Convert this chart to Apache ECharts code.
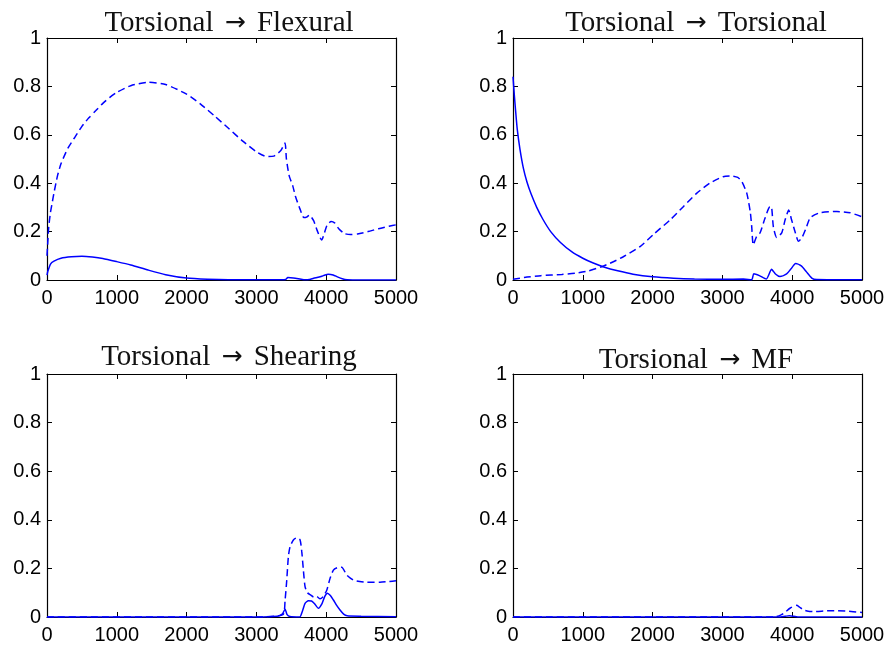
<!DOCTYPE html>
<html>
<head>
<meta charset="utf-8">
<script src="https://cdn.jsdelivr.net/npm/echarts@6/dist/echarts.min.js"></script>
<style>
  html, body { margin: 0; padding: 0; background: #fff; }
  #chart { width: 893px; height: 650px; }
</style>
</head>
<body>
<div id="chart"></div>
<script>
// Panel titles: source mode, arrow, target mode
const titleFrom = ['Torsional', 'Torsional', 'Torsional', 'Torsional'];
const titleTo = ['Flexural', 'Torsional', 'Shearing', 'MF'];

// Axis ticks
const xTicks = [0, 1000, 2000, 3000, 4000, 5000];
const yTicks = [0, 0.2, 0.4, 0.6, 0.8, 1];

// Torsional -> Flexural
const flexSolidX = [0, 10, 50, 100, 200, 350, 500, 650, 800, 1000, 1200, 1450, 1700, 2000, 2300, 2600, 3000, 3350, 3420, 3450, 3530, 3600, 3680, 3760, 3820, 3900, 3960, 4030, 4100, 4160, 4230, 4300, 4500, 5000];
const flexSolidY = [0.02, 0.034, 0.066, 0.078, 0.09, 0.096, 0.098, 0.095, 0.089, 0.076, 0.062, 0.041, 0.022, 0.008, 0.003, 0.001, 0.001, 0.001, 0.002, 0.01, 0.008, 0.005, 0.001, 0.002, 0.007, 0.012, 0.018, 0.024, 0.021, 0.013, 0.005, 0.001, 0, 0];
const flexDashX = [0, 10, 25, 50, 75, 100, 150, 200, 300, 400, 500, 600, 700, 800, 900, 1000, 1200, 1450, 1700, 2000, 2200, 2400, 2600, 2800, 3000, 3150, 3250, 3350, 3410, 3430, 3470, 3520, 3560, 3620, 3680, 3720, 3760, 3820, 3870, 3935, 3970, 4010, 4070, 4120, 4180, 4260, 4350, 4450, 4600, 4750, 4900, 5000];
const flexDashY = [0.10, 0.15, 0.22, 0.28, 0.32, 0.36, 0.43, 0.48, 0.545, 0.59, 0.635, 0.67, 0.70, 0.73, 0.755, 0.775, 0.803, 0.817, 0.808, 0.768, 0.727, 0.678, 0.627, 0.575, 0.53, 0.51, 0.512, 0.535, 0.566, 0.50, 0.43, 0.39, 0.345, 0.297, 0.258, 0.26, 0.268, 0.245, 0.205, 0.165, 0.19, 0.225, 0.242, 0.236, 0.212, 0.192, 0.188, 0.19, 0.2, 0.212, 0.222, 0.228];

// Torsional -> Torsional
const torsSolidX = [0, 20, 40, 62, 100, 150, 200, 260, 340, 430, 540, 680, 840, 1000, 1150, 1300, 1500, 1720, 2000, 2300, 2600, 3000, 3300, 3420, 3450, 3530, 3630, 3705, 3760, 3824, 3920, 3980, 4050, 4130, 4200, 4280, 4350, 5000];
const torsSolidY = [0.84, 0.76, 0.69, 0.62, 0.54, 0.46, 0.405, 0.355, 0.30, 0.25, 0.20, 0.155, 0.117, 0.09, 0.07, 0.054, 0.038, 0.024, 0.013, 0.007, 0.004, 0.003, 0.004, 0.001, 0.026, 0.018, 0.004, 0.044, 0.025, 0.014, 0.025, 0.045, 0.068, 0.058, 0.035, 0.008, 0.002, 0.001];
const torsDashX = [0, 200, 400, 700, 900, 1075, 1270, 1390, 1580, 1820, 2030, 2250, 2440, 2630, 2820, 3010, 3130, 3220, 3280, 3350, 3400, 3420, 3442, 3490, 3540, 3610, 3680, 3705, 3730, 3777, 3850, 3900, 3950, 3990, 4040, 4090, 4140, 4200, 4260, 4400, 4640, 4830, 5000];
const torsDashY = [0.003, 0.012, 0.018, 0.023, 0.028, 0.037, 0.055, 0.069, 0.096, 0.138, 0.193, 0.248, 0.303, 0.358, 0.400, 0.427, 0.430, 0.424, 0.406, 0.358, 0.28, 0.22, 0.145, 0.18, 0.195, 0.255, 0.303, 0.30, 0.22, 0.176, 0.195, 0.25, 0.289, 0.25, 0.20, 0.16, 0.175, 0.215, 0.258, 0.278, 0.283, 0.278, 0.261];

// Torsional -> Shearing
const shearSolidX = [0, 3000, 3300, 3370, 3411, 3440, 3480, 3620, 3660, 3697, 3745, 3790, 3830, 3888, 3940, 3980, 4017, 4060, 4103, 4150, 4198, 4250, 4300, 4500, 5000];
const shearSolidY = [0, 0, 0.003, 0.012, 0.032, 0.01, 0.002, 0, 0.025, 0.056, 0.067, 0.066, 0.056, 0.036, 0.055, 0.085, 0.098, 0.088, 0.07, 0.048, 0.029, 0.012, 0.005, 0.003, 0.001];
const shearDashX = [0, 3000, 3380, 3411, 3435, 3458, 3482, 3530, 3578, 3626, 3650, 3673, 3697, 3730, 3780, 3820, 3864, 3912, 3960, 4008, 4055, 4103, 4160, 4222, 4294, 4389, 4480, 4580, 4771, 4900, 5000];
const shearDashY = [0, 0, 0.01, 0.07, 0.152, 0.248, 0.289, 0.317, 0.326, 0.317, 0.269, 0.193, 0.125, 0.10, 0.09, 0.082, 0.084, 0.075, 0.085, 0.11, 0.159, 0.193, 0.203, 0.205, 0.173, 0.152, 0.146, 0.143, 0.143, 0.146, 0.149];

// Torsional -> MF
const mfSolidX = [0, 3800, 3900, 3960, 4020, 4100, 5000];
const mfSolidY = [0, 0, 0.003, 0.005, 0.003, 0, 0];
const mfDashX = [0, 3750, 3848, 3900, 3968, 4063, 4100, 4159, 4230, 4326, 4480, 4637, 4800, 4947, 5000];
const mfDashY = [0, 0, 0.01, 0.02, 0.036, 0.048, 0.042, 0.03, 0.024, 0.022, 0.025, 0.026, 0.024, 0.02, 0.019];

const panelSolid = [[flexSolidX, flexSolidY], [torsSolidX, torsSolidY], [shearSolidX, shearSolidY], [mfSolidX, mfSolidY]];
const panelDash = [[flexDashX, flexDashY], [torsDashX, torsDashY], [shearDashX, shearDashY], [mfDashX, mfDashY]];

const zip = (xs, ys) => xs.map((x, i) => [x, ys[i]]);

// Panel boxes (left, top, width, height)
const boxes = [
  { left: 47, top: 38, width: 349, height: 242 },
  { left: 513, top: 38, width: 349, height: 242 },
  { left: 47, top: 374, width: 349, height: 243 },
  { left: 513, top: 374, width: 349, height: 243 }
];
const titlePos = [
  { x: 229, top: 8 },
  { x: 696, top: 8 },
  { x: 229, top: 342 },
  { x: 696, top: 345 }
];

const labelFont = { fontFamily: 'Liberation Sans', fontSize: 20, color: '#000' };
const lineCol = '#000';

const grid = [], xAxis = [], yAxis = [], series = [], title = [];

boxes.forEach((b, i) => {
  grid.push(Object.assign({ containLabel: false }, b));
  // bottom and left axes carry labels; top and right axes close the box
  xAxis.push({
    type: 'value', gridIndex: i, min: 0, max: 5000, interval: 1000, position: 'bottom',
    axisLine: { lineStyle: { color: lineCol, width: 1.2 } },
    axisTick: { inside: true, length: 5, lineStyle: { color: lineCol } },
    axisLabel: Object.assign({ margin: 8, formatter: v => xTicks.includes(v) ? String(v) : '' }, labelFont),
    splitLine: { show: false }
  });
  xAxis.push({
    type: 'value', gridIndex: i, min: 0, max: 5000, interval: 1000, position: 'top',
    axisLine: { onZero: false, lineStyle: { color: lineCol, width: 1.2 } },
    axisTick: { inside: true, length: 5, lineStyle: { color: lineCol } },
    axisLabel: { show: false },
    splitLine: { show: false }
  });
  yAxis.push({
    type: 'value', gridIndex: i, min: 0, max: 1, interval: 0.2, position: 'left',
    axisLine: { show: true, onZero: false, lineStyle: { color: lineCol, width: 1.2 } },
    axisTick: { show: true, inside: true, length: 5, lineStyle: { color: lineCol } },
    axisLabel: Object.assign({ margin: 6, formatter: v => String(+v.toFixed(1)) }, labelFont),
    splitLine: { show: false }
  });
  yAxis.push({
    type: 'value', gridIndex: i, min: 0, max: 1, interval: 0.2, position: 'right',
    axisLine: { show: true, onZero: false, lineStyle: { color: lineCol, width: 1.2 } },
    axisTick: { show: true, inside: true, length: 5, lineStyle: { color: lineCol } },
    axisLabel: { show: false },
    splitLine: { show: false }
  });

  const common = {
    type: 'line', xAxisIndex: 2 * i, yAxisIndex: 2 * i,
    showSymbol: false, symbol: 'none', smooth: 0.2, z: 3
  };
  series.push(Object.assign({}, common, {
    data: zip(panelSolid[i][0], panelSolid[i][1]),
    lineStyle: { color: '#0000ff', width: 1.5, type: 'solid' }
  }));
  series.push(Object.assign({}, common, {
    data: zip(panelDash[i][0], panelDash[i][1]),
    lineStyle: { color: '#0000ff', width: 1.5, type: [7, 4] }
  }));

  title.push({
    text: '{t|' + titleFrom[i] + ' }{a|\u2192}{t| ' + titleTo[i] + '}',
    left: titlePos[i].x, top: titlePos[i].top, textAlign: 'center',
    padding: 0,
    textStyle: {
      fontWeight: 'normal',
      rich: {
        t: { fontFamily: 'Liberation Serif', fontSize: 29, fontWeight: 'normal', color: '#111', lineHeight: 31, verticalAlign: 'middle' },
        a: { fontFamily: 'DejaVu Sans', fontSize: 25, fontWeight: 'normal', color: '#111', lineHeight: 31, verticalAlign: 'middle', padding: [0, 4, 0, 4] }
      }
    }
  });
});

const chart = echarts.init(document.getElementById('chart'), null, { renderer: 'canvas' });
chart.setOption({ animation: false, backgroundColor: '#fff', title, grid, xAxis, yAxis, series });
</script>
</body>
</html>
